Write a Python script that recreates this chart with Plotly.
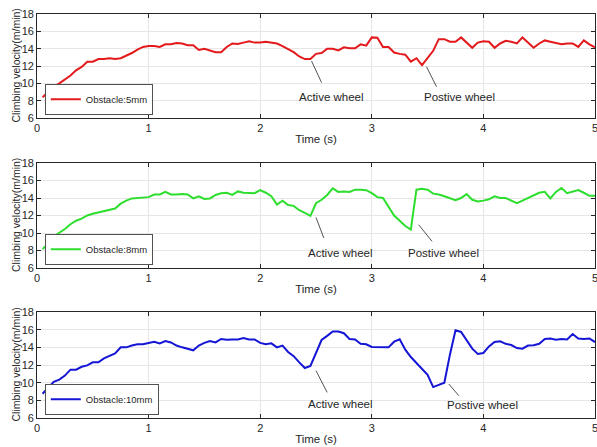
import plotly.graph_objects as go

time_s = [round(0.05 * i, 2) for i in range(1, 101)]

v_5mm = [8.4, 9.0, 9.6, 10.0, 10.4, 10.9, 11.5, 11.9, 12.5, 12.5,
         12.8, 12.8, 12.9, 12.8, 12.9, 13.2, 13.5, 13.9, 14.2, 14.3,
         14.3, 14.2, 14.5, 14.5, 14.65, 14.6, 14.4, 14.4, 13.85, 14.0,
         13.8, 13.6, 13.6, 14.2, 14.6, 14.55, 14.7, 14.85, 14.7, 14.7,
         14.8, 14.7, 14.6, 14.3, 13.95, 13.6, 13.1, 12.8, 12.8, 13.4,
         13.5, 14.0, 14.0, 13.8, 14.15, 14.05, 14.05, 14.5, 14.35, 15.3,
         15.25, 14.2, 14.2, 13.55, 13.4, 13.3, 12.5, 12.9, 12.1, 12.9,
         13.75, 15.1, 15.1, 14.8, 14.8, 15.3, 14.7, 14.1, 14.7, 14.85,
         14.8, 14.1, 14.6, 14.9, 14.8, 14.6, 15.3, 14.75, 14.1, 14.6,
         14.95, 14.8, 14.65, 14.5, 14.6, 14.6, 14.2, 14.95, 14.5, 14.15]

v_8mm = [8.17, 8.74, 9.6, 10.0, 10.46, 11.0, 11.4, 11.64, 12.0, 12.2,
         12.36, 12.5, 12.7, 12.8, 13.35, 13.7, 13.95, 14.0, 14.05, 14.1,
         14.4, 14.4, 14.7, 14.4, 14.4, 14.45, 14.4, 13.95, 14.2, 13.9,
         13.95, 14.35, 14.55, 14.6, 14.35, 14.75, 14.6, 14.6, 14.55, 14.9,
         14.6, 14.2, 13.25, 13.7, 13.2, 13.1, 12.6, 12.3, 11.95, 13.4,
         13.8, 14.35, 15.1, 14.7, 14.75, 14.7, 14.95, 14.95, 14.9, 14.55,
         14.1, 14.0, 13.0, 12.0, 11.4, 10.8, 10.4, 14.95, 15.05, 14.95,
         14.5, 14.4, 14.2, 14.0, 13.75, 14.0, 14.45, 13.8, 13.6, 13.7,
         13.85, 14.2, 14.0, 14.0, 13.7, 13.4, 13.7, 14.0, 14.35, 14.6,
         14.7, 13.95, 14.7, 15.15, 14.55, 14.7, 14.9, 14.6, 14.25, 14.25]

v_10mm = [8.75, 9.47, 10.1, 10.34, 10.8, 11.47, 11.47, 11.8, 11.96, 12.3,
          12.3, 12.75, 13.0, 13.3, 14.0, 14.0, 14.2, 14.34, 14.34, 14.45,
          14.64, 14.45, 14.7, 14.55, 14.2, 14.0, 13.85, 13.66, 14.2, 14.5,
          14.7, 14.55, 14.95, 14.87, 14.9, 14.9, 15.05, 14.9, 14.9, 14.5,
          14.34, 14.45, 14.0, 14.2, 13.47, 13.0, 12.3, 11.66, 11.9, 13.36,
          14.83, 15.3, 15.8, 15.8, 15.6, 14.94, 14.9, 14.4, 14.34, 14.04,
          14.0, 14.0, 14.0, 14.64, 14.9, 13.74, 12.9, 12.23, 11.55, 10.9,
          9.5, 9.74, 10.0, 13.17, 15.92, 15.74, 14.75, 13.85, 13.25, 13.36,
          14.1, 14.6, 14.68, 14.4, 14.26, 13.92, 13.85, 14.2, 14.23, 14.4,
          14.94, 15.0, 14.87, 14.94, 14.9, 15.5, 15.0, 14.94, 15.0, 14.6]

series_names = ["Obstacle:5mm", "Obstacle:8mm", "Obstacle:10mm"]
series_colors = ["#e3191c", "#2ede2e", "#1515d6"]
series_values = [v_5mm, v_8mm, v_10mm]

x_ticks = [0, 1, 2, 3, 4, 5]
y_ticks = [6, 8, 10, 12, 14, 16, 18]
x_title = "Time (s)"
y_title = "Climbing velocity(m/min)"

# annotation labels: (label, text x, text y, line x0, y0, x1, y1) per subplot
notes = [
    [("Active wheel", 2.64, 8.46, 2.46, 12.58, 2.55, 10.08),
     ("Postive wheel", 3.79, 8.46, 3.49, 11.92, 3.58, 9.61)],
    [("Active wheel", 2.72, 7.75, 2.50, 11.78, 2.57, 9.43),
     ("Postive wheel", 3.64, 7.75, 3.42, 10.95, 3.54, 9.04)],
    [("Active wheel", 2.72, 7.6, 2.50, 11.35, 2.60, 8.9),
     ("Postive wheel", 3.99, 7.5, 3.69, 9.85, 3.78, 8.52)],
]

FONT = "Liberation Sans, Arial, sans-serif"
W, H = 597, 447
ML, MR, MT, MB = 37, 2, 14, 29
plot_w = W - ML - MR
plot_h = H - MT - MB
# pixel top/bottom of each panel
panels = [(14, 118), (163, 268), (312, 418)]
domains = [[(H - MB - b) / plot_h, (H - MB - t) / plot_h] for t, b in panels]

fig = go.Figure()
layout = dict(
    width=W, height=H,
    margin=dict(l=ML, r=MR, t=MT, b=MB, autoexpand=False),
    plot_bgcolor="white", paper_bgcolor="white",
    font=dict(family=FONT, size=11, color="#262626"),
    showlegend=True,
)

annotations = []
shapes = []
for i in range(3):
    n = "" if i == 0 else str(i + 1)
    leg = "legend" if i == 0 else f"legend{i + 1}"
    fig.add_trace(go.Scatter(
        x=time_s, y=series_values[i], mode="lines",
        line=dict(color=series_colors[i], width=2),
        name=series_names[i], xaxis=f"x{n}", yaxis=f"y{n}", legend=leg,
    ))
    axcommon = dict(
        showline=True, linecolor="#262626", linewidth=0.8, mirror="ticks",
        ticks="inside", ticklen=4, tickcolor="#262626", automargin=False,
        showgrid=True, gridcolor="#e6e6e6", gridwidth=1, zeroline=False,
        tickfont=dict(family=FONT, size=11, color="#262626"),
        ticklabeloverflow="allow",
    )
    layout[f"xaxis{n}"] = dict(
        axcommon, domain=[0, 1], anchor=f"y{n}", range=[0, 5],
        tickvals=x_ticks, ticktext=[str(v) for v in x_ticks],
        title=dict(text=x_title, font=dict(family=FONT, size=11.5), standoff=1),
    )
    layout[f"yaxis{n}"] = dict(
        axcommon, domain=domains[i], anchor=f"x{n}", range=[6, 18],
        tickvals=y_ticks, ticktext=[str(v) for v in y_ticks],
    )
    t, b = panels[i]
    annotations.append(dict(
        x=(15.5 - ML) / plot_w, y=sum(domains[i]) / 2, xref="paper", yref="paper",
        text=y_title, textangle=-90, showarrow=False, xanchor="center", yanchor="middle",
        font=dict(family=FONT, size=10.5, color="#262626"),
    ))
    layout[leg] = dict(
        x=(45 - ML) / plot_w, y=(H - MB - (b - 3)) / plot_h,
        xanchor="left", yanchor="bottom",
        bgcolor="white", bordercolor="#262626", borderwidth=0.8,
        font=dict(family=FONT, size=9.5, color="#262626"),
        itemwidth=30, tracegroupgap=0,
    )
    for (lab, tx, ty, x0, y0, x1, y1) in notes[i]:
        annotations.append(dict(
            x=tx, y=ty, xref=f"x{n}", yref=f"y{n}", text=lab, showarrow=False,
            font=dict(family=FONT, size=11.5, color="#262626"),
        ))
        shapes.append(dict(
            type="line", xref=f"x{n}", yref=f"y{n}", x0=x0, y0=y0, x1=x1, y1=y1,
            line=dict(color="#262626", width=0.8),
        ))

layout["annotations"] = annotations
layout["shapes"] = shapes
fig.update_layout(**layout)
fig.write_html("out.html", config={"displayModeBar": False})

# remove the default page margin so the figure sits at the window's corner
with open("out.html", "r", encoding="utf-8") as f:
    html = f.read()
html = html.replace("<head>", "<head><style>html,body{margin:0;padding:0;overflow:hidden;}</style>", 1)
with open("out.html", "w", encoding="utf-8") as f:
    f.write(html)
